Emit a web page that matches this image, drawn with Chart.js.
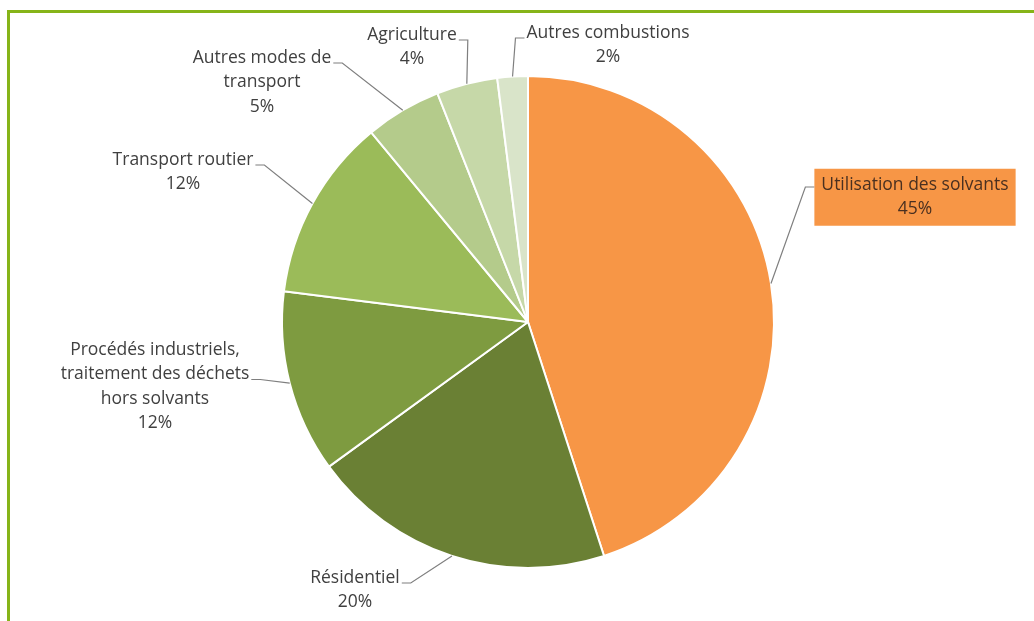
<!DOCTYPE html>
<html>
<head>
<meta charset="utf-8">
<script src="https://cdn.jsdelivr.net/npm/chart.js@4/dist/chart.umd.min.js"></script>
<style>
  body { margin: 0; background: #fff; }
  #wrap { position: relative; width: 1034px; height: 621px; }
  #frame {
    position: absolute; left: 7px; top: 10px; right: 0; bottom: 0;
    border-top: 3px solid #86B418; border-left: 3px solid #86B418;
  }
  canvas { position: absolute; left: 0; top: 0; }
</style>
</head>
<body>
<div id="wrap">
  <div id="frame"></div>
  <canvas id="pieChart" width="1034" height="621"></canvas>
</div>
<script>
// sources of emissions, clockwise from the top
const categories = [
  'Utilisation des solvants',
  'Résidentiel',
  'Procédés industriels,\ntraitement des déchets\nhors solvants',
  'Transport routier',
  'Autres modes de\ntransport',
  'Agriculture',
  'Autres combustions'
];
const shares = [45, 20, 12, 12, 5, 4, 2];
const sliceColors = ['#F79646', '#6A8034', '#7E9B40', '#9BBB59', '#B4CB8B', '#C6D8A8', '#D9E4C9'];

// where each label text sits (center x, first line y), and which side the leader line leaves from
const labelLayout = [
  { x: 915, y: 185, side: 'left', attach: 0, box: true },
  { x: 355, y: 578, side: 'right', attach: 0 },
  { x: 155, y: 350, side: 'right', attach: 1 },
  { x: 183, y: 160, side: 'right', attach: 0 },
  { x: 262, y: 58, side: 'right', attach: 0 },
  { x: 412, y: 35, side: 'right', attach: 0 },
  { x: 608, y: 33, side: 'left', attach: 0 }
];

const LINE_H = 24.5;
const FONT = '17.5px "Open Sans"';

const calloutPlugin = {
  id: 'callouts',
  afterDraw(chart) {
    const ctx = chart.ctx;
    const arcs = chart.getDatasetMeta(0).data;
    ctx.save();
    ctx.font = FONT;
    ctx.textAlign = 'center';
    ctx.textBaseline = 'middle';

    arcs.forEach((arc, i) => {
      const p = arc.getProps(['x', 'y', 'startAngle', 'endAngle', 'outerRadius'], true);
      const mid = (p.startAngle + p.endAngle) / 2;
      const ax = p.x + Math.cos(mid) * p.outerRadius;
      const ay = p.y + Math.sin(mid) * p.outerRadius;

      const lay = labelLayout[i];
      const lines = categories[i].split('\n').concat([shares[i] + '%']);
      const widths = lines.map(l => ctx.measureText(l).width);
      const attachW = widths[lay.attach];
      const maxW = Math.max(...widths);

      // orange box behind the biggest slice label
      let edge;
      if (lay.box) {
        const padX = 7, padY = 6;
        const left = lay.x - maxW / 2 - padX;
        ctx.fillStyle = sliceColors[i];
        ctx.fillRect(left, lay.y - LINE_H / 2 - padY + 2, maxW + padX * 2, LINE_H * lines.length + padY * 2 - 4);
        edge = left;
      } else {
        edge = lay.side === 'left' ? lay.x - attachW / 2 - 2 : lay.x + attachW / 2 + 2;
      }

      // leader line
      const ly = lay.y + lay.attach * LINE_H + (lay.box ? 2 : 5);
      const elbowX = lay.side === 'left' ? edge - 9 : edge + 9;
      ctx.strokeStyle = '#7F7F7F';
      ctx.lineWidth = 1.2;
      ctx.beginPath();
      ctx.moveTo(edge, ly);
      ctx.lineTo(elbowX, ly);
      ctx.lineTo(ax, ay);
      ctx.stroke();

      ctx.fillStyle = lay.box ? '#4A3020' : '#404040';
      lines.forEach((l, k) => ctx.fillText(l, lay.x, lay.y + k * LINE_H));
    });
    ctx.restore();
  }
};

new Chart(document.getElementById('pieChart'), {
  type: 'pie',
  data: {
    labels: categories,
    datasets: [{
      data: shares,
      backgroundColor: sliceColors,
      borderColor: '#FFFFFF',
      borderWidth: 2
    }]
  },
  options: {
    responsive: false,
    animation: false,
    layout: { padding: { top: 75, bottom: 52, left: 22, right: 0 } },
    plugins: {
      legend: { display: false },
      tooltip: { enabled: false }
    }
  },
  plugins: [calloutPlugin]
});
</script>
</body>
</html>
